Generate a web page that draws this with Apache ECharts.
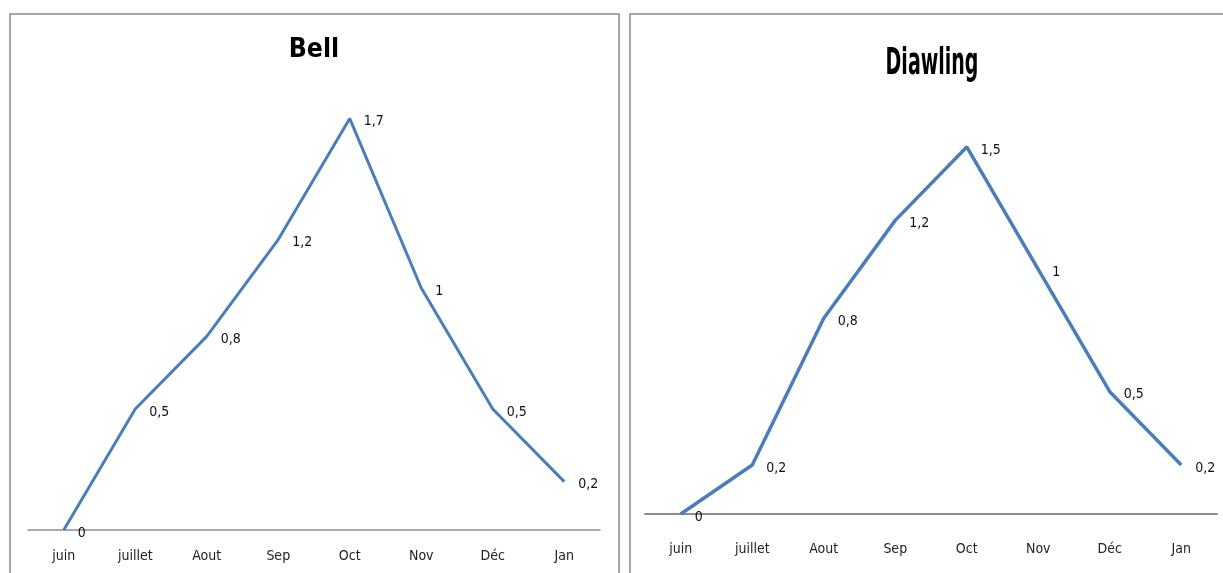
<!DOCTYPE html>
<html><head><meta charset="utf-8">
<script src="https://cdn.jsdelivr.net/npm/echarts@6/dist/echarts.min.js"></script>
<style>html,body{margin:0;padding:0;background:#fff}#c{width:1223px;height:573px}</style>
</head><body><div id="c"></div>
<script>
const months = ['juin','juillet','Aout','Sep','Oct','Nov','Déc','Jan'];
const bellValues = [0, 0.5, 0.8, 1.2, 1.7, 1, 0.5, 0.2];
const diawlingValues = [0, 0.2, 0.8, 1.2, 1.5, 1, 0.5, 0.2];
const titles = ['Bell', 'Diawling'];

const FONT = "'Liberation Sans Narrow','DejaVu Sans Condensed','Open Sans',sans-serif";
const TFONT = "'DejaVu Sans',sans-serif";
const lineColor = '#4A7EBB';
const fmt = p => String(p.value).replace('.', ',');

const chart = echarts.init(document.getElementById('c'), null, {renderer:'canvas'});
chart.setOption({
  animation:false,
  backgroundColor:'#fff',
  graphic:[
    {type:'rect', shape:{x:10,y:14,width:609,height:580}, style:{fill:'none', stroke:'#8a8a8a', lineWidth:1.5}, z:-1},
    {type:'rect', shape:{x:630,y:14,width:620,height:580}, style:{fill:'none', stroke:'#8a8a8a', lineWidth:1.5}, z:-1},
    {type:'text', x:314, y:50, scaleX:0.88, style:{text:titles[0], font:"bold 27px " + TFONT, fill:'#000', align:'center', verticalAlign:'middle'}},
    {type:'text', x:932, y:64, scaleX:0.5, style:{text:titles[1], font:"bold 38px " + TFONT, fill:'#000', align:'center', verticalAlign:'middle'}}
  ],
  grid:[
    {left:28, width:572, top:46, height:484},
    {left:645, width:572, top:65, height:449}
  ],
  xAxis:[
    {gridIndex:0, type:'category', data:months, boundaryGap:true,
     axisLine:{lineStyle:{color:'#8c8c8c', width:1.5}}, axisTick:{show:false},
     axisLabel:{color:'#222', fontFamily:FONT, fontSize:14, margin:19}},
    {gridIndex:1, type:'category', data:months, boundaryGap:true,
     axisLine:{lineStyle:{color:'#8c8c8c', width:2}}, axisTick:{show:false},
     axisLabel:{color:'#222', fontFamily:FONT, fontSize:14, margin:28}}
  ],
  yAxis:[
    {gridIndex:0, type:'value', min:0, max:2, show:false, splitLine:{show:false}},
    {gridIndex:1, type:'value', min:0, max:1.835, show:false, splitLine:{show:false}}
  ],
  series:[
    {type:'line', xAxisIndex:0, yAxisIndex:0, data:bellValues, showSymbol:true, symbol:'circle', symbolSize:2,
     lineStyle:{color:lineColor, width:3}, itemStyle:{color:'rgba(0,0,0,0)', borderWidth:0},
     label:{show:true, position:'right', distance:13, offset:[0,3], formatter:fmt, fontFamily:FONT, fontSize:14, color:'#111'}},
    {type:'line', xAxisIndex:1, yAxisIndex:1, data:diawlingValues, showSymbol:true, symbol:'circle', symbolSize:2,
     lineStyle:{color:lineColor, width:3.5}, itemStyle:{color:'rgba(0,0,0,0)', borderWidth:0},
     label:{show:true, position:'right', distance:13, offset:[0,3], formatter:fmt, fontFamily:FONT, fontSize:14, color:'#111'}}
  ]
});
</script></body></html>
